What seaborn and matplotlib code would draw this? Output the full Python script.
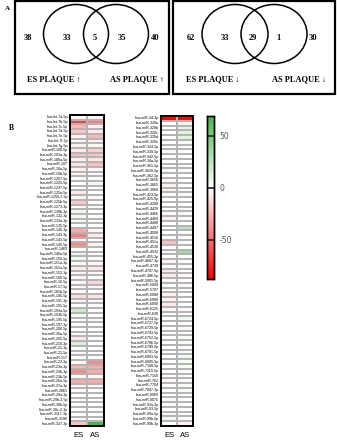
import numpy as np
import pandas as pd
import matplotlib
matplotlib.use("Agg")
import matplotlib.pyplot as plt
from matplotlib.colors import LinearSegmentedColormap
from matplotlib.patches import Ellipse, Rectangle
import seaborn as sns

# ---- panel A: venn counts ----
venn_up = [38, 33, 5, 35, 40]
venn_down = [62, 33, 29, 1, 30]
venn_up_labels = ["ES PLAQUE \u2191", "AS PLAQUE \u2191"]
venn_down_labels = ["ES PLAQUE \u2193", "AS PLAQUE \u2193"]

# ---- panel B: heatmap values ----
left_names = ["hsa-let-7a-5p", "hsa-let-7b-5p", "hsa-let-7c-5p", "hsa-let-7d-5p", "hsa-let-7e-5p",
              "hsa-let-7f-5p", "hsa-let-7g-5p", "hsa-miR-100-5p", "hsa-miR-103a-3p", "hsa-miR-106a-5p",
              "hsa-miR-107", "hsa-miR-10a-5p", "hsa-miR-10b-5p", "hsa-miR-1207-5p", "hsa-miR-1225-5p",
              "hsa-miR-1237-5p", "hsa-miR-125a-5p", "hsa-miR-1250-2-5p", "hsa-miR-125b-5p", "hsa-miR-1273-3p",
              "hsa-miR-130b-3p", "hsa-miR-132-3p", "hsa-miR-133a-3p", "hsa-miR-135-5p", "hsa-miR-140-3p",
              "hsa-miR-143-3p", "hsa-miR-143-5p", "hsa-miR-145-5p", "hsa-miR-1469", "hsa-miR-146a-5p",
              "hsa-miR-150-5p", "hsa-miR-151a-3p", "hsa-miR-151a-5p", "hsa-miR-152-3p", "hsa-miR-156-5p",
              "hsa-miR-16-5p", "hsa-miR-17-5p", "hsa-miR-181b-5p", "hsa-miR-185-5p", "hsa-miR-191-3p",
              "hsa-miR-191-5p", "hsa-miR-193a-5p", "hsa-miR-193b-5p", "hsa-miR-195-5p", "hsa-miR-197-3p",
              "hsa-miR-206-5p", "hsa-miR-20a-5p", "hsa-miR-205-5p", "hsa-miR-210-3p", "hsa-miR-21-3p",
              "hsa-miR-21-5p", "hsa-miR-217", "hsa-miR-22-3p", "hsa-miR-23a-3p", "hsa-miR-23b-3p",
              "hsa-miR-23b-5p", "hsa-miR-26a-5p", "hsa-miR-27a-3p", "hsa-miR-2861", "hsa-miR-29a-3p",
              "hsa-miR-29b-2-5p", "hsa-miR-30b-5p", "hsa-miR-30c-2-3p", "hsa-miR-3117-3p", "hsa-miR-3196",
              "hsa-miR-337-3p"]
left_es = [-3, -65, -25, -20, -5, -3, -5, -8, -22, -5,
           -10, -5, -3, -2, 0, 0, -8, 4, -20, 0,
           8, 5, 3, 3, -30, -45, -3, -40, 0, 8,
           5, 3, -8, -3, -2, -3, -3, 3, -12, -3,
           0, 20, 5, 0, 3, 0, -3, -8, 15, -2,
           3, 0, -3, -25, -40, 3, -30, -3, -2, 0,
           -2, 3, 0, 0, -2, -20]
left_as = [-5, -45, -5, -8, -25, -5, -3, -18, -20, -10,
           -22, -3, -2, 3, 5, 0, 0, 0, 0, -2,
           0, 0, 0, 0, -3, -8, 0, -5, 0, 0,
           -2, -3, -8, -3, 0, -15, -2, 0, -10, -2,
           3, 0, 0, 3, 0, 0, 0, 0, 0, 0,
           0, 0, -40, -28, -30, -3, -30, -3, 0, 3,
           0, 0, 2, 0, 0, 69]

right_names = ["hsa-miR-24-3p", "hsa-miR-320a", "hsa-miR-320b", "hsa-miR-320c", "hsa-miR-320d",
               "hsa-miR-320e", "hsa-miR-324-5p", "hsa-miR-339-5p", "hsa-miR-342-5p", "hsa-miR-34a-5p",
               "hsa-miR-361-5p", "hsa-miR-3620-5p", "hsa-miR-362-5p", "hsa-miR-3656", "hsa-miR-3665",
               "hsa-miR-3960", "hsa-miR-423-5p", "hsa-miR-425-5p", "hsa-miR-4298", "hsa-miR-4429",
               "hsa-miR-4466", "hsa-miR-4484", "hsa-miR-4488", "hsa-miR-4497", "hsa-miR-4508",
               "hsa-miR-4516", "hsa-miR-451a", "hsa-miR-4530", "hsa-miR-4532", "hsa-miR-455-3p",
               "hsa-miR-4687-3p", "hsa-miR-4739", "hsa-miR-4787-5p", "hsa-miR-486-5p", "hsa-miR-5001-5p",
               "hsa-miR-5094", "hsa-miR-5787", "hsa-miR-6088", "hsa-miR-6089", "hsa-miR-6090",
               "hsa-miR-6125", "hsa-miR-638", "hsa-miR-6724-5p", "hsa-miR-6727-5p", "hsa-miR-6729-5p",
               "hsa-miR-6743-5p", "hsa-miR-6752-5p", "hsa-miR-6786-5p", "hsa-miR-6789-5p", "hsa-miR-6791-5p",
               "hsa-miR-6803-5p", "hsa-miR-6805-5p", "hsa-miR-7108-5p", "hsa-miR-7110-5p", "hsa-miR-7150",
               "hsa-miR-762", "hsa-miR-7704", "hsa-miR-7847-3p", "hsa-miR-8069", "hsa-miR-8075",
               "hsa-miR-92a-3p", "hsa-miR-93-5p", "hsa-miR-99a-5p", "hsa-miR-99b-5p", "hsa-miR-99b-3p"]
right_es = [-88, 0, 0, 0, 0, 0, 0, 3, 3, 0,
            0, 3, 0, -3, -5, -5, 0, 0, 0, 0,
            0, -5, 0, 0, 0, 0, -22, 0, 5, 0,
            -3, 0, -8, -8, -3, 0, -2, -5, -5, -8,
            -3, 0, 0, 0, 0, 0, 2, 0, 0, 0,
            0, 0, 0, 0, 0, -3, 0, 0, 0, -3,
            3, 0, 5, 5, 0]
right_as = [-85, 8, 10, 12, 12, 3, 0, 0, 0, 0,
            2, 0, 0, 0, 0, 0, 0, 0, 0, 3,
            3, 0, 0, 25, 3, 0, 0, 0, 35, 0,
            0, 0, 0, -3, 0, 0, 0, 0, 0, 0,
            0, 0, 5, 3, 3, 0, 3, 3, 3, 3,
            5, 3, 3, 3, 0, 3, 3, 3, 0, 0,
            0, 0, 0, 0, -5]

left_df = pd.DataFrame({"ES": left_es, "AS": left_as}, index=left_names)
right_df = pd.DataFrame({"ES": right_es, "AS": right_as}, index=right_names)

W, H = 337, 440
fig = plt.figure(figsize=(W / 100, H / 100), dpi=100)

def px_rect(x0, y0, x1, y1):
    return [x0 / W, 1 - y1 / H, (x1 - x0) / W, (y1 - y0) / H]

cmap = LinearSegmentedColormap.from_list("rwg", ["#ff0000", "#ffffff", "#16a516"])
vmin, vmax = -88, 69

ax_l = fig.add_axes(px_rect(70, 115, 104, 426))
ax_r = fig.add_axes(px_rect(161, 116, 193, 426))
cax = fig.add_axes(px_rect(207, 116, 214, 279))

sns.heatmap(left_df, ax=ax_l, cmap=cmap, center=0, vmin=vmin, vmax=vmax,
            cbar=False, linewidths=0.25, linecolor="#b4b4b4",
            xticklabels=True, yticklabels=True)
sns.heatmap(right_df, ax=ax_r, cmap=cmap, center=0, vmin=vmin, vmax=vmax,
            cbar_ax=cax, linewidths=0.25, linecolor="#b4b4b4",
            xticklabels=True, yticklabels=True)

for ax in (ax_l, ax_r):
    for s in ax.spines.values():
        s.set_visible(True)
        s.set_linewidth(1.4)
        s.set_color("black")
    ax.tick_params(axis="y", length=0, pad=1.5, labelsize=2.6)
    ax.tick_params(axis="x", length=0, pad=4, labelsize=5.5)
    for t in ax.get_yticklabels():
        t.set_fontfamily("Liberation Sans")
        t.set_rotation(0)
    for t in ax.get_xticklabels():
        t.set_fontfamily("Liberation Sans")
        t.set_rotation(0)
    ax.set_xlabel("")
    ax.set_ylabel("")

cax.set_yticks([50, 0, -50])
cax.set_yticklabels(["50", "0", "-50"])
cax.tick_params(axis="y", direction="in", length=5, width=1.3, color="#333333",
                labelsize=5.5, labelcolor="#555555", pad=4)
for s in cax.spines.values():
    s.set_visible(True)
    s.set_linewidth(1.0)
    s.set_color("black")

# ---- panel A drawn in pixel space ----
ov = fig.add_axes([0, 0, 1, 1], zorder=-1)
ov.set_xlim(0, W)
ov.set_ylim(H, 0)
ov.axis("off")

serif = "Liberation Serif"

def venn(x0, x1, c1, c2, ew, counts, xs, labels, lab_xs):
    ov.add_patch(Rectangle((x0, 1.5), x1 - x0, 92.5, fill=False, lw=1.6, ec="black"))
    for c in (c1, c2):
        ov.add_patch(Ellipse((c, 34), ew, 59, fill=False, lw=1.1, ec="black"))
    for v, x in zip(counts, xs):
        ov.text(x, 38, str(v), ha="center", va="center", fontsize=6,
                fontweight="bold", family=serif)
    ov.text(lab_xs[0], 79, labels[0], ha="left", va="center", fontsize=6,
            fontweight="bold", family=[serif, "DejaVu Sans"])
    ov.text(lab_xs[1], 79, labels[1], ha="right", va="center", fontsize=6,
            fontweight="bold", family=[serif, "DejaVu Sans"])

venn(15, 169, 76, 116, 65, venn_up, [28, 67, 95, 122, 155], venn_up_labels, [27, 164])
venn(173, 335, 235, 274, 66, venn_down, [191, 225, 253, 278, 313], venn_down_labels, [186, 326])

ov.text(5, 9, "A", fontsize=5, fontweight="bold", family=serif, va="center")
ov.text(9, 128, "B", fontsize=5.5, fontweight="bold", family=serif, va="center")

fig.savefig("out.png", dpi=100)
